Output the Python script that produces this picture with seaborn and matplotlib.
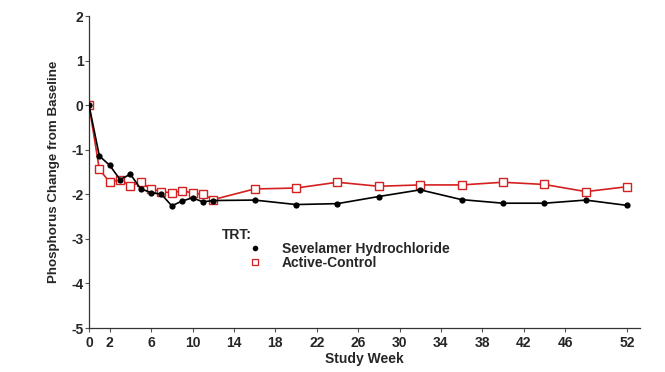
import matplotlib
matplotlib.use("Agg")
import matplotlib.pyplot as plt
import seaborn as sns
import pandas as pd
from matplotlib.lines import Line2D

weeks = [0, 1, 2, 3, 4, 5, 6, 7, 8, 9, 10, 11, 12, 16, 20, 24, 28, 32, 36, 40, 44, 48, 52]
sevelamer = [0.0, -1.14, -1.35, -1.67, -1.55, -1.88, -1.96, -2.00, -2.26, -2.15, -2.08, -2.17, -2.14,
             -2.13, -2.23, -2.21, -2.05, -1.90, -2.12, -2.20, -2.20, -2.13, -2.25]
active = [0.0, -1.44, -1.73, -1.67, -1.81, -1.73, -1.88, -1.94, -1.97, -1.92, -1.97, -2.00, -2.12,
          -1.88, -1.86, -1.73, -1.82, -1.79, -1.79, -1.73, -1.78, -1.94, -1.83]
groups = ["Sevelamer Hydrochloride", "Active-Control"]
xticks = [0, 2, 6, 10, 14, 18, 22, 26, 30, 34, 38, 42, 46, 52]
yticks = [-5, -4, -3, -2, -1, 0, 1, 2]

sns.set_style("white")
plt.rcParams['font.family'] = ['Liberation Sans', 'DejaVu Sans']

df = pd.DataFrame({
    "week": weeks * 2,
    "change": sevelamer + active,
    "TRT": [groups[0]] * len(weeks) + [groups[1]] * len(weeks),
})

red = "#d42020"
fig = plt.figure(figsize=(6.65, 3.72), dpi=100)
ax = fig.add_axes([89/665, 1 - 328/372, (640 - 89)/665, (328 - 16)/372])

sns.lineplot(data=df[df.TRT == groups[1]], x="week", y="change", ax=ax, color=red,
             marker="s", markersize=5.2, markerfacecolor="white", markeredgecolor=red,
             markeredgewidth=1.0, linewidth=1.2, zorder=2)
sns.lineplot(data=df[df.TRT == groups[0]], x="week", y="change", ax=ax, color="black",
             marker="o", markersize=4.5, markeredgewidth=0, linewidth=1.2, zorder=3)

ax.set_xlim(0, (640 - 89) / 10.35)
ax.set_ylim(-5, 2)
ax.set_xticks(xticks)
ax.set_yticks(yticks)
ax.set_xticklabels([str(t) for t in xticks], fontweight="bold", fontsize=10)
ax.set_yticklabels([str(t) for t in yticks], fontweight="bold", fontsize=10)
ax.tick_params(axis="x", direction="out", length=3, width=0.8, color="#555555", pad=3, bottom=True)
ax.tick_params(axis="y", direction="out", length=3, width=0.8, color="#555555", pad=1, left=True)
for s in ["top", "right"]:
    ax.spines[s].set_visible(False)
for s in ["left", "bottom"]:
    ax.spines[s].set_color("#333333")
    ax.spines[s].set_linewidth(0.9)

ax.set_xlabel("Study Week", fontweight="bold", fontsize=10, labelpad=1)
ax.set_ylabel("Phosphorus Change from Baseline", fontweight="bold", fontsize=9.6, labelpad=8)

fig.text(222/665, 1 - 235/372, "TRT:", fontweight="bold", fontsize=10, va="center", ha="left")
handles = [
    Line2D([], [], linestyle="none", marker="o", color="black", markersize=4, markeredgewidth=0),
    Line2D([], [], linestyle="none", marker="s", markerfacecolor="white", markeredgecolor=red,
           markersize=5, markeredgewidth=0.9),
]
fig.legend(handles, groups, loc="upper left", bbox_to_anchor=(240/665, 1 - 235/372),
           frameon=False, borderpad=0, handlelength=1.2, handletextpad=1.3, labelspacing=0.0,
           prop={"weight": "bold", "size": 10})

fig.savefig("out.png", dpi=100)
